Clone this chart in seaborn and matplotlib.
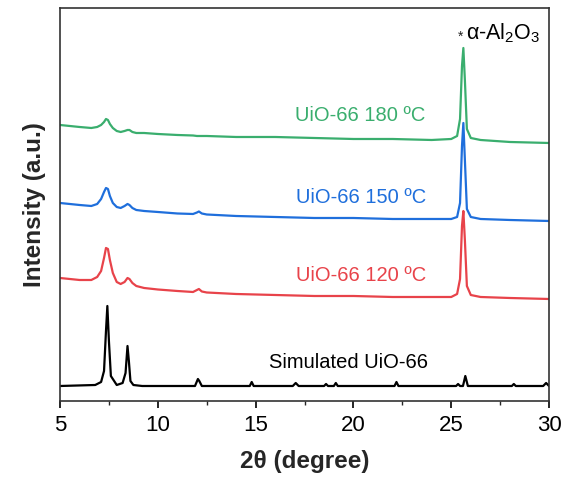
import numpy as np
import pandas as pd
import matplotlib
matplotlib.use('Agg')
import matplotlib.pyplot as plt
import seaborn as sns
from matplotlib.ticker import MultipleLocator

# 2theta sample points (degree) and intensities (a.u., offset for stacking)
x_sim = [5, 6.8, 7.1, 7.25, 7.35, 7.42, 7.5, 7.6, 7.9, 8.2, 8.35, 8.45, 8.52, 8.6, 8.75, 9.2,
         11.9, 12.05, 12.12, 12.25, 14.0, 14.7, 14.8, 14.9, 16.9, 17.05, 17.2, 18.5, 18.6, 18.7,
         19.0, 19.1, 19.2, 22.1, 22.2, 22.3, 25.25, 25.35, 25.45, 25.6, 25.72, 25.85,
         28.1, 28.2, 28.3, 29.7, 29.85, 30]
y_sim = [15, 16, 19, 30, 70, 95, 60, 25, 16, 18, 28, 55, 40, 20, 16, 15,
         15, 22, 20, 15, 15, 15, 19, 15, 15, 18, 15, 15, 17, 15,
         15, 18, 15, 15, 19, 15, 15, 17, 15, 15, 25, 15,
         15, 17, 15, 15, 18, 15]

x_exp = [5, 6.0, 6.6, 6.9, 7.1, 7.25, 7.35, 7.45, 7.55, 7.7, 7.9, 8.1, 8.3, 8.45, 8.55, 8.7,
         8.9, 9.3, 10, 11, 11.8, 12.0, 12.1, 12.25, 12.5, 14, 16, 18, 20, 22, 24, 25.0,
         25.3, 25.45, 25.55, 25.62, 25.7, 25.8, 26.0, 26.5, 28, 30]
y_120 = [123, 121, 121, 124, 130, 143, 153, 152, 141, 128, 119, 117, 119, 123, 122, 118,
         115, 113, 111.5, 110, 109, 111, 112, 109.5, 108.5, 107, 106, 105, 105, 104, 104, 104,
         107, 122, 175, 190, 160, 115, 106, 104, 103, 102]
y_150 = [198, 196, 195, 197, 202, 209, 213, 212, 205, 198, 194, 193, 195, 197, 196, 193,
         191, 190, 189, 187.5, 187, 188.5, 189.5, 187.5, 186.5, 185, 184, 183, 183, 182, 182, 182,
         184, 198, 255, 278, 240, 192, 184, 182, 181, 180]
y_180 = [276, 274, 273, 274, 276, 279, 282, 281, 277, 273, 270, 269, 270, 271, 271, 269,
         268, 268, 267, 266, 265.5, 265, 265, 265, 265, 264, 264, 263, 262, 262, 261, 262,
         265, 282, 335, 353, 320, 272, 263, 261, 259, 258]

sns.set_style('ticks')
plt.rcParams['font.family'] = ['Liberation Sans', 'DejaVu Sans']
plt.rcParams['mathtext.fontset'] = 'custom'
plt.rcParams['mathtext.rm'] = 'Liberation Sans'
plt.rcParams['mathtext.it'] = 'Liberation Sans:italic'

fig = plt.figure(figsize=(5.63, 4.84), dpi=100)
ax = fig.add_axes([0.1066, 0.1715, 0.8686, 0.812])

sns.lineplot(x=x_sim, y=y_sim, color='black', lw=1.6, ax=ax)
sns.lineplot(x=x_exp, y=y_120, color='#e8434a', lw=1.6, ax=ax)
sns.lineplot(x=x_exp, y=y_150, color='#1f6fdc', lw=1.6, ax=ax)
sns.lineplot(x=x_exp, y=y_180, color='#3aae6e', lw=1.6, ax=ax)

ax.text(23.7, 285, 'UiO-66 180 ºC', color='#3aae6e', fontsize=14.5, ha='right', va='center')
ax.text(23.7, 203, 'UiO-66 150 ºC', color='#1f6fdc', fontsize=14.5, ha='right', va='center')
ax.text(23.7, 125, 'UiO-66 120 ºC', color='#e8434a', fontsize=14.5, ha='right', va='center')
ax.text(23.8, 38, 'Simulated UiO-66', color='black', fontsize=14.5, ha='right', va='center')
ax.text(25.48, 364, '*', color='#222222', fontsize=10, ha='center', va='center')
ax.text(25.76, 368, 'α-Al$_2$O$_3$', color='black', fontsize=15.5, ha='left', va='center')

ax.set_xlim(5, 30)
ax.set_ylim(0, 393)
ax.xaxis.set_major_locator(MultipleLocator(5))
ax.xaxis.set_minor_locator(MultipleLocator(2.5))
ax.set_yticks([])
ax.tick_params(axis='x', which='major', direction='out', length=5, width=1.2,
               labelsize=16, pad=5, colors='black')
ax.tick_params(axis='x', which='minor', direction='out', length=3, width=1.0)
for s in ax.spines.values():
    s.set_linewidth(1.2)
    s.set_color('#333333')

ax.set_xlabel('2θ (degree)', fontsize=17.5, fontweight='bold', labelpad=10)
ax.set_ylabel('Intensity (a.u.)', fontsize=17.5, fontweight='bold', labelpad=10)

fig.savefig('out.png', dpi=100)
